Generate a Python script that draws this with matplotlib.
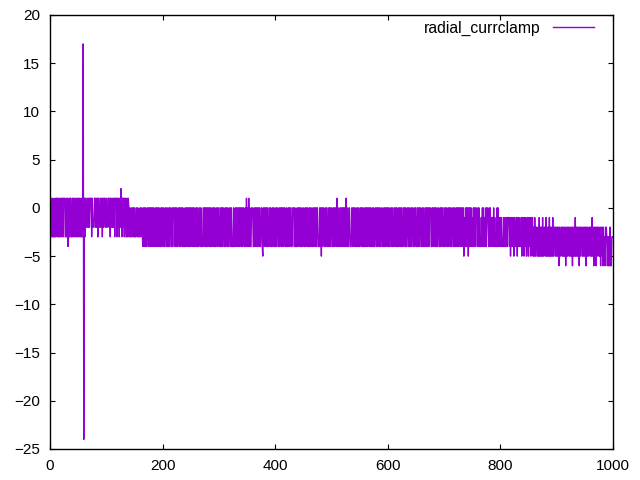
import numpy as np
import matplotlib
matplotlib.use("Agg")
import matplotlib.pyplot as plt

# valores (un carácter por muestra, valor = dígito - 6)
# 'A' y 'B' son el pico positivo y negativo alrededor de x=60
filas = [
    "6373373337" "3773737337" "7373777337" "3723737733" "7373763737",
    "377337373A" "B737744747" "4777374447" "7474737744" "7473747744",
    "7447747374" "7474737773" "7473748737" "4737733737" "6363366363",
    "6336636353" "6366326262" "6226626262" "6262622626" "2626622626",
    "6262266262" "2626622626" "6626262266" "2626626222" "6262662626",
    "2662626226" "6262266262" "2266262626" "2662626236" "2626226626",
    "6226262662" "2626626226" "6262226226" "2662626266" "2626622627",
    "2627262266" "6226262662" "6262266216" "2662626226" "6262262662",
    "2626622626" "6262626622" "6226262662" "2666262226" "2662626226",
    "6226266262" "2626622626" "6262662226" "2616266226" "2662262626",
    "6226262662" "7262266262" "6262627262" "2662226626" "6262266262",
    "2662626226" "2626266262" "6226262266" "2626626226" "6226262662",
    "6262266262" "2662626226" "2662622662" "6262266262" "2626622626",
    "6226262662" "2626226626" "6262666226" "2662626226" "6226262662",
    "2626622626" "6262266262" "2626262626" "6262615262" "6261626262",
    "5262626652" "6262225262" "6252626652" "6262525262" "5222626252",
    "5252225252" "2525552515" "2525152255" "1525222515" "2515251155",
    "1525152514" "1514411415" "1414151144" "1514141514" "1415114414",
    "1414041144" "1414140414" "1441141404" "1415141414" "0414411414",
    "1404141144" "1415140414" "0414411404" "1404130443" "0303040033",
]
especiales = {"A": 17, "B": -24}

valores = []
for fila in filas:
    for c in fila:
        valores.append(especiales[c] if c in especiales else int(c) - 6)
valores = np.array(valores)
x = np.arange(len(valores))

plt.rcParams["font.family"] = ["Liberation Sans", "DejaVu Sans"]
plt.rcParams["font.size"] = 11

fig = plt.figure(figsize=(6.4, 4.8), dpi=100)
ax = fig.add_axes([50 / 640, 1 - 449 / 480, 563 / 640, 434 / 480])

ax.plot(x, valores, color="#9400d3", lw=1.0, label="radial_currclamp")

ax.set_xlim(0, 1000)
ax.set_ylim(-25, 20)
ax.set_xticks(np.arange(0, 1001, 200))
ax.set_yticks(np.arange(-25, 21, 5))
ax.tick_params(direction="in", length=3.5, width=0.8, top=True, right=True, pad=7)
for s in ax.spines.values():
    s.set_linewidth(1.0)

ax.legend(loc="upper right", bbox_to_anchor=(1 - 8 / 563, 1 + 5 / 434),
          frameon=False, markerfirst=False, fontsize=11.3,
          handlelength=2.6, borderaxespad=0.3, handletextpad=0.8)

fig.savefig("out.png", dpi=100)
